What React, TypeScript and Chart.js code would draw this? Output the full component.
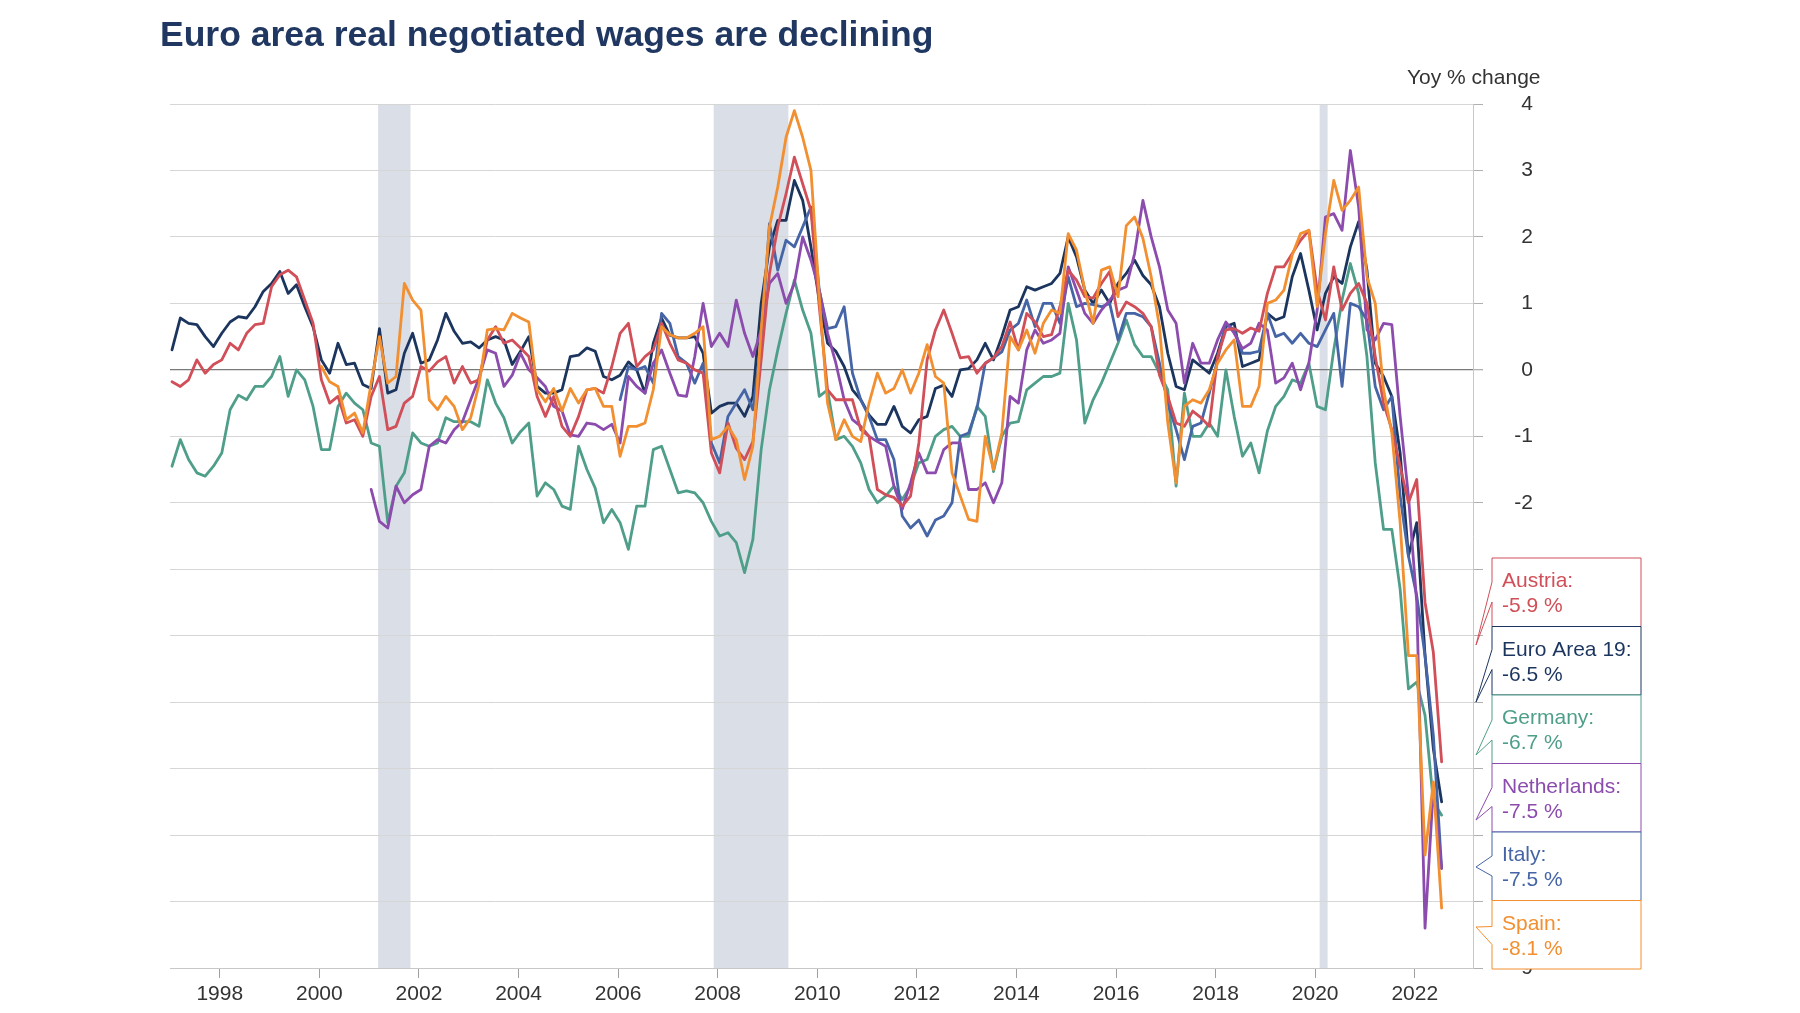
import React, { useEffect, useRef } from 'react';
import { Chart, registerables } from 'chart.js';

Chart.register(...registerables);

// ---- Data (bi-monthly observations, index 0 = Jan 1997) ----
const FIRST_YEAR = 1997.04;
const STEP = 1 / 6;

const yearTicks = [1998, 2000, 2002, 2004, 2006, 2008, 2010, 2012, 2014, 2016, 2018, 2020, 2022];
const yTicksMin = -9;
const yTicksMax = 4;
const recessionBands = [
  [2001.18, 2001.83],
  [2007.92, 2009.42],
  [2020.09, 2020.25],
];

const euroStart = 0;
const euroArea = [
  0.30, 0.78, 0.70, 0.68, 0.50, 0.35, 0.55, 0.72, 0.80, 0.78,
  0.95, 1.18, 1.30, 1.48, 1.15, 1.28, 0.95, 0.65, 0.15, -0.05,
  0.40, 0.08, 0.10, -0.22, -0.28, 0.62, -0.35, -0.30, 0.25, 0.55,
  0.10, 0.15, 0.45, 0.85, 0.58, 0.40, 0.42, 0.33, 0.45, 0.50,
  0.45, 0.08, 0.28, 0.50, -0.25, -0.35, -0.35, -0.30, 0.20, 0.22,
  0.33, 0.28, -0.10, -0.15, -0.08, 0.12, 0.00, -0.35, 0.40, 0.78,
  0.52, 0.48, 0.48, 0.50, 0.25, -0.65, -0.55, -0.50, -0.50, -0.70,
  -0.40, 1.00, 1.85, 2.25, 2.25, 2.85, 2.55, 1.85, 1.05, 0.40,
  0.28, 0.05, -0.30, -0.45, -0.68, -0.82, -0.82, -0.55, -0.85, -0.95,
  -0.75, -0.70, -0.28, -0.23, -0.40, 0.00, 0.02, 0.15, 0.40, 0.15,
  0.50, 0.90, 0.95, 1.25, 1.20, 1.25, 1.30, 1.45, 2.00, 1.70,
  1.20, 1.00, 1.20, 1.00, 1.30, 1.45, 1.65, 1.42, 1.28, 0.95,
  0.25, -0.25, -0.30, 0.15, 0.05, -0.05, 0.25, 0.65, 0.70, 0.05,
  0.10, 0.15, 0.85, 0.75, 0.80, 1.40, 1.75, 1.20, 0.60, 1.15,
  1.40, 1.30, 1.85, 2.23, 1.50, 0.10, -0.10, -0.40, -1.25, -2.80,
  -2.30, -4.30, -5.70, -6.50,
];

const austriaStart = 0;
const austria = [
  -0.18, -0.25, -0.15, 0.15, -0.05, 0.08, 0.15, 0.40, 0.30, 0.55,
  0.68, 0.70, 1.25, 1.43, 1.50, 1.40, 1.05, 0.70, -0.15, -0.50,
  -0.40, -0.80, -0.75, -1.00, -0.40, -0.10, -0.90, -0.85, -0.50, -0.40,
  0.05, -0.02, 0.12, 0.20, -0.20, 0.05, -0.20, -0.15, 0.45, 0.65,
  0.40, 0.45, 0.33, 0.20, -0.40, -0.70, -0.40, -0.85, -1.00, -0.70,
  -0.30, -0.28, -0.35, 0.05, 0.55, 0.70, 0.05, 0.20, 0.30, 0.70,
  0.40, 0.15, 0.10, 0.00, -0.05, -1.25, -1.55, -0.80, -1.18, -1.35,
  -1.08, 0.15, 1.45, 2.15, 2.65, 3.20, 2.80, 2.40, 0.95, -0.30,
  -0.45, -0.45, -0.45, -0.90, -1.00, -1.80, -1.88, -1.92, -2.05, -1.90,
  -1.10, 0.15, 0.60, 0.90, 0.55, 0.18, 0.20, -0.05, 0.10, 0.18,
  0.35, 0.72, 0.30, 0.85, 0.72, 0.50, 0.53, 0.95, 1.50, 1.35,
  1.10, 1.08, 1.30, 1.48, 0.80, 1.02, 0.95, 0.85, 0.65, -0.08,
  -0.40, -0.80, -0.85, -0.62, -0.72, -0.85, 0.20, 0.60, 0.62, 0.55,
  0.63, 0.58, 1.15, 1.55, 1.55, 1.75, 1.95, 2.10, 1.20, 0.75,
  1.55, 0.90, 1.15, 1.30, 1.00, 0.20, -0.50, -0.90, -1.45, -2.00,
  -1.65, -3.50, -4.25, -5.90,
];

const germanyStart = 0;
const germany = [
  -1.45, -1.05, -1.35, -1.55, -1.60, -1.45, -1.25, -0.60, -0.38, -0.45,
  -0.25, -0.25, -0.10, 0.20, -0.40, 0.00, -0.15, -0.55, -1.20, -1.20,
  -0.55, -0.35, -0.50, -0.60, -1.10, -1.15, -2.30, -1.75, -1.55, -0.95,
  -1.10, -1.15, -1.10, -0.72, -0.78, -0.78, -0.78, -0.85, -0.15, -0.50,
  -0.72, -1.10, -0.93, -0.80, -1.90, -1.70, -1.80, -2.05, -2.10, -1.15,
  -1.50, -1.78, -2.30, -2.10, -2.30, -2.70, -2.05, -2.05, -1.20, -1.15,
  -1.50, -1.85, -1.82, -1.85, -2.00, -2.28, -2.50, -2.45, -2.60, -3.05,
  -2.55, -1.20, -0.30, 0.30, 0.85, 1.35, 0.90, 0.55, -0.40, -0.30,
  -1.05, -1.00, -1.15, -1.40, -1.80, -2.00, -1.90, -1.75, -1.95, -1.75,
  -1.40, -1.35, -1.00, -0.90, -0.85, -1.00, -1.00, -0.55, -0.70, -1.53,
  -1.00, -0.80, -0.78, -0.30, -0.20, -0.10, -0.10, -0.05, 1.00, 0.45,
  -0.80, -0.45, -0.20, 0.10, 0.40, 0.75, 0.38, 0.20, 0.20, -0.05,
  -0.30, -1.75, -0.35, -1.00, -1.00, -0.80, -1.00, 0.00, -0.70, -1.30,
  -1.10, -1.55, -0.92, -0.55, -0.40, -0.15, -0.20, 0.10, -0.55, -0.60,
  0.30, 1.05, 1.60, 1.15, 0.20, -1.40, -2.40, -2.40, -3.30, -4.80,
  -4.70, -5.20, -6.50, -6.70,
];

const spainStart = 18;
const spain = [
  0.05, -0.18, -0.25, -0.75, -0.65, -0.95, -0.20, 0.50, -0.20, -0.10,
  1.30, 1.05, 0.90, -0.45, -0.60, -0.40, -0.55, -0.90, -0.72, -0.22,
  0.60, 0.62, 0.60, 0.85, 0.78, 0.72, -0.30, -0.48, -0.28, -0.62,
  -0.28, -0.50, -0.30, -0.28, -0.55, -0.55, -1.30, -0.85, -0.85, -0.80,
  -0.30, 0.65, 0.53, 0.48, 0.48, 0.55, 0.65, -1.05, -1.00, -0.85,
  -1.05, -1.65, -1.15, 0.60, 2.15, 2.75, 3.50, 3.90, 3.50, 3.00,
  1.10, -0.50, -1.05, -0.75, -1.00, -1.08, -0.50, -0.05, -0.35, -0.28,
  0.00, -0.35, -0.05, 0.38, -0.10, -0.20, -1.55, -1.90, -2.25, -2.28,
  -1.00, -1.50, -0.95, 0.50, 0.30, 0.60, 0.25, 0.70, 0.90, 0.85,
  2.05, 1.80, 1.20, 0.70, 1.50, 1.55, 1.10, 2.17, 2.30, 1.98,
  1.40, 0.65, -0.80, -1.70, -0.55, -0.45, -0.50, -0.30, 0.10, 0.30,
  0.45, -0.55, -0.55, -0.25, 1.00, 1.05, 1.20, 1.73, 2.05, 2.10,
  0.95, 2.05, 2.85, 2.40, 2.55, 2.75, 1.40, 1.00, -0.30, -0.95,
  -2.30, -4.30, -4.30, -7.30, -6.20, -8.10,
];

const netherlandsStart = 24;
const netherlands = [
  -1.80, -2.28, -2.38, -1.75, -2.00, -1.88, -1.80, -1.15, -1.05, -1.10,
  -0.90, -0.78, -0.45, -0.12, 0.30, 0.25, -0.25, -0.08, 0.25, 0.00,
  -0.12, -0.25, -0.55, -0.62, -0.98, -1.00, -0.80, -0.82, -0.90, -0.82,
  -1.10, -0.10, -0.25, -0.35, 0.10, 0.30, -0.05, -0.38, -0.40, 0.20,
  1.00, 0.35, 0.55, 0.35, 1.05, 0.55, 0.20, 0.60, 1.30, 1.45,
  1.00, 1.30, 2.00, 1.65, 1.20, 0.55, 0.10, -0.45, -0.75, -0.85,
  -1.00, -1.08, -1.15, -1.75, -2.10, -1.70, -1.25, -1.55, -1.55, -1.20,
  -1.10, -1.10, -1.80, -1.80, -1.70, -2.00, -1.70, -0.40, -0.50, 0.30,
  0.60, 0.40, 0.45, 0.55, 1.55, 1.20, 0.85, 0.70, 0.90, 1.05,
  1.20, 1.25, 1.75, 2.55, 2.00, 1.55, 0.90, 0.70, -0.20, 0.40,
  0.10, 0.10, 0.45, 0.72, 0.55, 0.32, 0.40, 0.70, 0.60, -0.20,
  -0.12, 0.10, -0.30, 0.10, 0.90, 2.30, 2.35, 2.10, 3.30, 2.45,
  0.60, 0.45, 0.70, 0.68, -0.70, -1.90, -3.50, -8.40, -6.30, -7.50,
];

const italyStart = 54;
const italy = [
  -0.45, 0.05, 0.00, 0.05, -0.20, 0.85, 0.70, 0.20, 0.10, -0.20,
  0.10, -1.10, -1.40, -0.70, -0.50, -0.30, -0.60, 0.40, 2.20, 1.50,
  1.95, 1.85, 2.15, 2.45, 1.20, 0.62, 0.65, 0.95, -0.05, -0.45,
  -0.70, -1.05, -1.05, -1.35, -2.20, -2.38, -2.26, -2.50, -2.26, -2.20,
  -2.00, -1.00, -0.95, -0.58, 0.10, 0.18, 0.27, 0.60, 0.70, 1.05,
  0.65, 1.00, 1.00, 0.70, 1.40, 0.95, 1.00, 0.98, 0.95, 1.00,
  0.45, 0.85, 0.85, 0.80, 0.65, 0.10, -0.50, -0.90, -1.35, -0.85,
  -0.80, -0.35, 0.15, 0.70, 0.60, 0.25, 0.25, 0.28, 0.85, 0.50,
  0.55, 0.40, 0.55, 0.40, 0.35, 0.60, 0.85, -0.25, 1.00, 0.95,
  0.75, -0.25, -0.60, -0.40, -1.90, -2.80, -3.40, -4.30, -5.50, -7.50,
];

// ---- Styling ----
const FONT = '"Liberation Sans", Arial, Helvetica, sans-serif';
const TITLE = 'Euro area real negotiated wages are declining';
const UNIT = 'Yoy % change';

type Series = { name: string; label: string; color: string; start: number; values: number[] };

const SERIES: Series[] = [
  { name: 'Austria', label: 'Austria:', color: '#d04f58', start: austriaStart, values: austria },
  { name: 'Euro Area 19', label: 'Euro Area 19:', color: '#1c355e', start: euroStart, values: euroArea },
  { name: 'Germany', label: 'Germany:', color: '#4f9e8a', start: germanyStart, values: germany },
  { name: 'Netherlands', label: 'Netherlands:', color: '#8c4cae', start: netherlandsStart, values: netherlands },
  { name: 'Italy', label: 'Italy:', color: '#4565a6', start: italyStart, values: italy },
  { name: 'Spain', label: 'Spain:', color: '#f28f30', start: spainStart, values: spain },
];

// drawing order (first = on top)
const DRAW_ORDER = ['Spain', 'Austria', 'Netherlands', 'Italy', 'Euro Area 19', 'Germany'];

const toPoints = (start: number, values: number[]) =>
  values.map((v, k) => ({ x: FIRST_YEAR + (start + k) * STEP, y: v }));

const bandsPlugin = {
  id: 'bands',
  beforeDraw(chart: any) {
    const { ctx, chartArea, scales } = chart;
    ctx.save();
    ctx.fillStyle = '#dadee6';
    recessionBands.forEach(([a, b]) => {
      const x1 = scales.x.getPixelForValue(a);
      const x2 = scales.x.getPixelForValue(b);
      ctx.fillRect(x1, chartArea.top, x2 - x1, chartArea.bottom - chartArea.top);
    });
    ctx.restore();
  },
};

const textPlugin = {
  id: 'texts',
  afterDraw(chart: any) {
    const { ctx } = chart;
    ctx.save();
    ctx.textBaseline = 'alphabetic';
    ctx.textAlign = 'left';
    ctx.fillStyle = '#1f3761';
    ctx.font = `bold 35.5px ${FONT}`;
    ctx.fillText(TITLE, 160, 46);
    ctx.fillStyle = '#333333';
    ctx.font = `21px ${FONT}`;
    ctx.fillText(UNIT, 1407, 84);
    ctx.restore();
  },
};

const calloutPlugin = {
  id: 'callouts',
  afterDraw(chart: any) {
    const { ctx, chartArea } = chart;
    const left = 1492;
    const right = 1641;
    const top0 = 558;
    const h = 68.5;
    const tips = [645, 702, 755, 820, 867, 927];
    const baseA = [24, 23, 25, 24, 24, 26];
    const baseB = [44, 43, 45, 43, 44, 44];
    ctx.save();
    SERIES.forEach((s, k) => {
      const top = top0 + k * h;
      const bottom = top + h;
      const tipX = chartArea.right + 3;
      ctx.beginPath();
      ctx.moveTo(left, top);
      ctx.lineTo(right, top);
      ctx.lineTo(right, bottom);
      ctx.lineTo(left, bottom);
      ctx.lineTo(left, top + baseB[k]);
      ctx.lineTo(tipX, tips[k]);
      ctx.lineTo(left, top + baseA[k]);
      ctx.closePath();
      ctx.fillStyle = '#ffffff';
      ctx.fill();
      ctx.lineWidth = 1;
      ctx.strokeStyle = s.color;
      ctx.stroke();
      const last = s.values[s.values.length - 1];
      ctx.fillStyle = s.color;
      ctx.font = `21px ${FONT}`;
      ctx.textAlign = 'left';
      ctx.textBaseline = 'alphabetic';
      ctx.fillText(s.label, 1502, top + 29);
      ctx.fillText(`${last.toFixed(1)} %`, 1502, top + 54);
    });
    ctx.restore();
  },
};

export default function App() {
  const ref = useRef<HTMLCanvasElement>(null);

  useEffect(() => {
    if (!ref.current) return;
    Chart.defaults.font.family = FONT;
    const datasets = DRAW_ORDER.map((name) => {
      const s = SERIES.find((q) => q.name === name)!;
      return {
        label: s.name,
        data: toPoints(s.start, s.values),
        borderColor: s.color,
        backgroundColor: s.color,
        borderWidth: 2.8,
        pointRadius: 0,
        pointHoverRadius: 0,
        tension: 0,
        fill: false,
        borderJoinStyle: 'round' as const,
        borderCapStyle: 'round' as const,
      };
    });

    const chart = new Chart(ref.current, {
      type: 'line',
      data: { datasets },
      plugins: [bandsPlugin, textPlugin, calloutPlugin],
      options: {
        animation: false,
        responsive: false,
        devicePixelRatio: 1,
        events: [],
        layout: { padding: { left: 170, right: 267, top: 104, bottom: 0 } },
        plugins: {
          legend: { display: false },
          title: { display: false },
          tooltip: { enabled: false },
        },
        scales: {
          x: {
            type: 'linear',
            min: 1997.0,
            max: 2023.17,
            afterBuildTicks: (scale: any) => {
              scale.ticks = yearTicks.map((v) => ({ value: v }));
            },
            afterFit: (scale: any) => {
              scale.height = 45;
            },
            ticks: {
              color: '#333333',
              font: { size: 21, family: FONT },
              padding: 4,
              maxRotation: 0,
              autoSkip: false,
              callback: (v: any) => String(v),
            },
            grid: {
              drawOnChartArea: false,
              drawTicks: true,
              tickLength: 10,
              color: '#a0a0a0',
              tickColor: '#a0a0a0',
            },
            border: { display: true, color: '#c8c8c8' },
          },
          y: {
            type: 'linear',
            position: 'right',
            min: yTicksMin,
            max: yTicksMax,
            afterFit: (scale: any) => {
              scale.width = 60;
            },
            ticks: {
              stepSize: 1,
              color: '#333333',
              font: { size: 21, family: FONT },
              padding: 8,
              crossAlign: 'far',
              callback: (v: any) => String(v),
            },
            grid: {
              color: (c: any) => (c.tick && c.tick.value === 0 ? '#7a7a7a' : '#d6d6d6'),
              lineWidth: (c: any) => (c.tick && c.tick.value === 0 ? 1.3 : 1),
              tickColor: '#b0b0b0',
              tickLength: 10,
              drawTicks: true,
            },
            border: { display: true, color: '#c8c8c8' },
          },
        },
      } as any,
    });
    return () => chart.destroy();
  }, []);

  return (
    <div style={{ position: 'absolute', left: 0, top: 0, width: 1800, height: 1013, background: '#ffffff' }}>
      <canvas ref={ref} width={1800} height={1013} style={{ display: 'block' }} />
    </div>
  );
}
